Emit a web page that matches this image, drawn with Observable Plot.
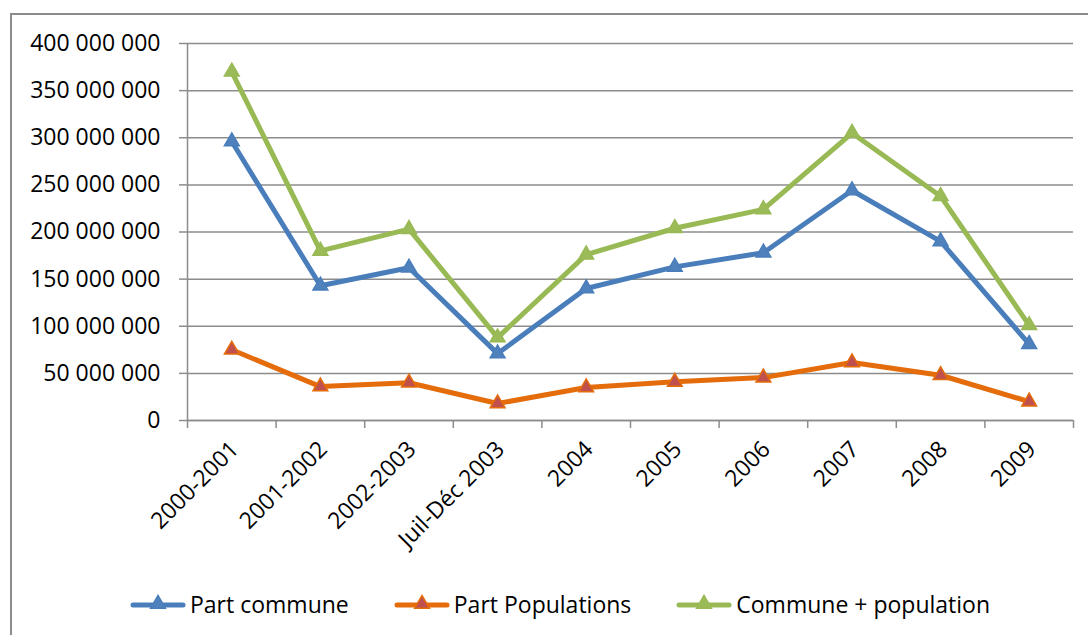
<!DOCTYPE html>
<html>
<head>
<meta charset="utf-8">
<script src="https://cdn.jsdelivr.net/npm/d3@7"></script>
<script src="https://cdn.jsdelivr.net/npm/@observablehq/plot@0.6"></script>
<style>
  html, body { margin: 0; padding: 0; background: #fff; overflow: hidden; }
  #wrap { position: relative; width: 1088px; height: 635px; overflow: hidden; font-family: "Open Sans", sans-serif; }
  #border { position: absolute; left: 10px; top: 13px; width: 1100px; height: 700px; border: 2px solid #8c8c8c; box-sizing: border-box; }
  #chart { position: absolute; left: 0; top: 0; }
  #legend { position: absolute; left: 130px; top: 588px; display: flex; align-items: center; font-size: 23px; color: #000; }
  .item { display: flex; align-items: center; margin-right: 45px; }
  .item svg { margin-right: 4px; }
</style>
</head>
<body>
<div id="wrap">
  <div id="border"></div>
  <div id="chart"></div>
  <div id="legend"></div>
</div>
<script>
const categories = ["2000-2001", "2001-2002", "2002-2003", "Juil-Déc 2003", "2004", "2005", "2006", "2007", "2008", "2009"];
const partCommune = [296e6, 143e6, 162e6, 71e6, 140e6, 163e6, 178e6, 244e6, 190e6, 81e6];
const partPopulations = [75e6, 36e6, 40e6, 18e6, 35e6, 41e6, 45.5e6, 61.5e6, 48e6, 20e6];
const communePopulation = [370e6, 180e6, 203e6, 88e6, 176e6, 204e6, 224e6, 305e6, 238e6, 101e6];
const yTicks = [0, 50e6, 100e6, 150e6, 200e6, 250e6, 300e6, 350e6, 400e6];

const seriesDefs = [
  {name: "Part commune", values: partCommune, stroke: "#4a7ebb", fill: "#4f81bd", mstroke: "#4a7ebb"},
  {name: "Part Populations", values: partPopulations, stroke: "#e46c0a", fill: "#c0504d", mstroke: "#e46c0a"},
  {name: "Commune + population", values: communePopulation, stroke: "#98b954", fill: "#9bbb59", mstroke: "#98b954"}
];

const idx = categories.map((c, i) => i);
const boundaries = idx.map(i => i - 0.5).concat([categories.length - 0.5]);
const fmt = v => d3.format(",")(v).replace(/,/g, " ");
const gray = "#8c8c8c";

const marks = [
  Plot.gridY(yTicks, {stroke: gray, strokeOpacity: 1, strokeWidth: 1.5}),
  Plot.ruleX([boundaries[0]], {stroke: gray, strokeWidth: 1.5}),
  Plot.ruleY([0], {stroke: gray, strokeWidth: 1.5}),
  Plot.axisY({ticks: yTicks, label: null, tickSize: 8, tickPadding: 19, tickFormat: fmt, stroke: gray, strokeWidth: 1.5, fill: "#000", fontSize: 23}),
  Plot.axisX({ticks: boundaries, label: null, tickSize: 8, tickFormat: () => "", stroke: gray, strokeWidth: 1.5}),
  Plot.text(idx, {x: d => d, y: () => 0, text: d => categories[d], rotate: -45, textAnchor: "end", dx: 3, dy: 25, fontSize: 23, fill: "#000"})
];
for (const s of seriesDefs) {
  const data = idx.map(i => ({x: i, y: s.values[i]}));
  marks.push(Plot.line(data, {x: "x", y: "y", stroke: s.stroke, strokeWidth: 5, strokeLinejoin: "round"}));
  marks.push(Plot.dot(data, {x: "x", y: "y", symbol: "triangle", r: 5.5, fill: s.fill, stroke: s.mstroke, strokeWidth: 1.5}));
}

const chart = Plot.plot({
  width: 1088,
  height: 560,
  marginLeft: 187,
  marginRight: 15,
  marginTop: 43,
  marginBottom: 140,
  style: {fontFamily: "Open Sans", fontSize: "23px", background: "transparent", color: "#000"},
  x: {type: "linear", domain: [boundaries[0], boundaries[boundaries.length - 1]], axis: null},
  y: {domain: [0, 400e6], axis: null},
  marks
});
document.getElementById("chart").appendChild(chart);

const legend = d3.select("#legend");
for (const s of seriesDefs) {
  const item = legend.append("div").attr("class", "item");
  const sv = item.append("svg").attr("width", 56).attr("height", 24);
  sv.append("line").attr("x1", 3).attr("x2", 53).attr("y1", 13).attr("y2", 13)
    .attr("stroke", s.stroke).attr("stroke-width", 5).attr("stroke-linecap", "round");
  sv.append("path").attr("d", d3.symbol(d3.symbolTriangle, Math.PI * 5.5 * 5.5)()).attr("transform", "translate(28,12)")
    .attr("fill", s.fill).attr("stroke", s.mstroke).attr("stroke-width", 1.5);
  item.append("span").text(s.name);
}
</script>
</body>
</html>
